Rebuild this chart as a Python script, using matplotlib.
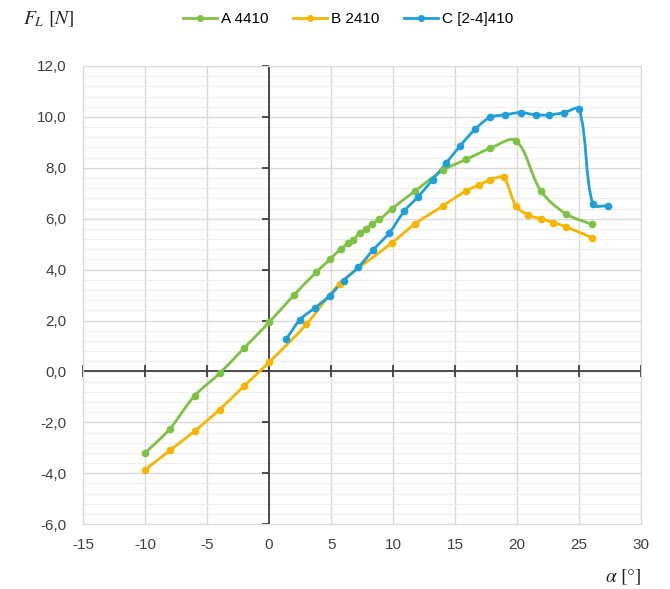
import numpy as np
import matplotlib

matplotlib.use("Agg")
import matplotlib.pyplot as plt
from matplotlib.path import Path
from matplotlib.patches import PathPatch
from matplotlib.lines import Line2D
from matplotlib.ticker import MultipleLocator, FuncFormatter

plt.rcParams["font.family"] = ["Liberation Sans", "DejaVu Sans"]
plt.rcParams["mathtext.fontset"] = "stix"
plt.rcParams["axes.unicode_minus"] = False

# series (angle of attack in deg, lift force in N)
a_alpha = [-10, -8, -6, -4, -2, 0, 2, 3.8, 4.9, 5.8, 6.4, 6.8, 7.3, 7.8, 8.3, 8.9,
           9.9, 11.8, 14.0, 15.9, 17.8, 19.9, 21.9, 23.9, 26.0]
a_force = [-3.2, -2.25, -0.95, -0.08, 0.93, 1.93, 3.0, 3.9, 4.4, 4.82, 5.03, 5.16,
           5.45, 5.58, 5.81, 5.97, 6.39, 7.1, 7.9, 8.33, 8.76, 9.07, 7.1, 6.2, 5.78]

b_alpha = [-10, -8, -6, -4, -2, 0, 3, 5.7, 9.9, 11.8, 14.0, 15.9, 16.9, 17.8, 18.9,
           19.9, 20.9, 21.9, 22.9, 23.9, 26.0]
b_force = [-3.86, -3.1, -2.34, -1.5, -0.56, 0.36, 1.85, 3.45, 5.05, 5.81, 6.5, 7.1,
           7.32, 7.52, 7.62, 6.5, 6.14, 6.0, 5.85, 5.69, 5.26]

c_alpha = [1.4, 2.5, 3.7, 4.9, 6.0, 7.2, 8.4, 9.7, 10.9, 12.0, 13.2, 14.3, 15.4, 16.6,
           17.8, 19.0, 20.3, 21.5, 22.6, 23.8, 25.0, 26.1, 27.3]
c_force = [1.28, 2.04, 2.5, 2.98, 3.57, 4.1, 4.78, 5.45, 6.3, 6.86, 7.54, 8.2, 8.86,
           9.51, 9.98, 10.08, 10.17, 10.08, 10.08, 10.17, 10.3, 6.57, 6.5]

names = ["A 4410", "B 2410", "C [2-4]410"]
colors = ["#7DC242", "#F7B500", "#1E9FDA"]

x_ticks = [-15, -10, -5, 0, 5, 10, 15, 20, 25, 30]
y_ticks = [-6, -4, -2, 0, 2, 4, 6, 8, 10, 12]


def smooth_path(ax, x, y):
    # smoothed line: cubic bezier through every point, tangents weighted by
    # the on-screen length of the neighbouring segments (less overshoot)
    pts = np.column_stack([x, y]).astype(float)
    scr = ax.transData.transform(pts)
    n = len(pts)
    verts = [pts[0]]
    codes = [Path.MOVETO]

    def tangent(i):
        if i == 0:
            return pts[1] - pts[0], np.hypot(*(scr[1] - scr[0]))
        if i == n - 1:
            return pts[-1] - pts[-2], np.hypot(*(scr[-1] - scr[-2]))
        d = np.hypot(*(scr[i] - scr[i - 1])) + np.hypot(*(scr[i + 1] - scr[i]))
        return pts[i + 1] - pts[i - 1], d

    for i in range(n - 1):
        seg = np.hypot(*(scr[i + 1] - scr[i]))
        t1, d1 = tangent(i)
        t2, d2 = tangent(i + 1)
        c1 = pts[i] + t1 * seg / (3 * d1)
        c2 = pts[i + 1] - t2 * seg / (3 * d2)
        verts += [c1, c2, pts[i + 1]]
        codes += [Path.CURVE4] * 3
    return Path(verts, codes)


fig = plt.figure(figsize=(6.7, 5.89), dpi=100)
ax = fig.add_axes([0.124, 0.110, 0.833, 0.778])

ax.set_xlim(x_ticks[0], x_ticks[-1])
ax.set_ylim(y_ticks[0], y_ticks[-1])
ax.set_xticks(x_ticks)
ax.set_yticks(y_ticks)
ax.yaxis.set_minor_locator(MultipleLocator(0.4))
ax.yaxis.set_major_formatter(FuncFormatter(lambda v, _: f"{v:.1f}".replace(".", ",")))
ax.tick_params(which="both", length=0, labelsize=11, colors="#404040")
ax.tick_params(axis="y", pad=12)
ax.tick_params(axis="x", pad=10)
ax.grid(which="major", color="#D9D9D9", lw=1.0)
ax.grid(which="minor", axis="y", color="#EEEEEE", lw=0.8)
ax.set_axisbelow(True)
for s in ax.spines.values():
    s.set_color("#D9D9D9")

# zero axes with their tick marks
ax.axhline(0, color="#404040", lw=1.3, zorder=2)
ax.axvline(0, color="#404040", lw=1.3, zorder=2)
ax.plot(np.zeros(len(y_ticks)), y_ticks, ls="none", marker=0, ms=5, mew=1.3,
        color="#404040", clip_on=False, zorder=2)
ax.plot(x_ticks, np.zeros(len(x_ticks)), ls="none", marker="|", ms=9, mew=1.3,
        color="#404040", clip_on=False, zorder=2)

handles = []
for xs, ys, c, name in zip([a_alpha, b_alpha, c_alpha], [a_force, b_force, c_force],
                           colors, names):
    ax.add_patch(PathPatch(smooth_path(ax, xs, ys), facecolor="none", edgecolor=c,
                           lw=2.0, zorder=3))
    ax.plot(xs, ys, ls="none", marker="o", ms=4.5, color=c, zorder=4)
    handles.append(Line2D([], [], color=c, lw=2.0, marker="o", ms=4, label=name))

fig.legend(handles=handles, loc="center", bbox_to_anchor=(0.52, 0.968), ncol=3,
           frameon=False, fontsize=11, handlelength=2.2, handletextpad=0.3,
           columnspacing=1.6)

fig.text(0.035, 0.968, r"$F_L\ [N]$", fontsize=14, va="center", ha="left",
         color="#222222")
fig.text(0.957, 0.02, r"$\alpha\ [°]$", fontsize=14, va="center", ha="right",
         color="#222222")

fig.savefig("out.png", dpi=100)
